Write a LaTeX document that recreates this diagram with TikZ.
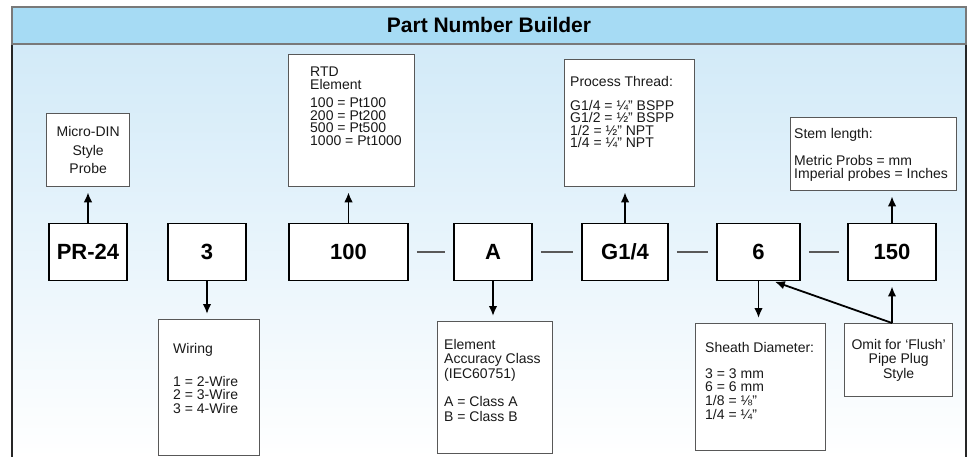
\documentclass[tikz,border=0pt]{standalone}
\usepackage{fontspec}
\setmainfont{Liberation Sans}
\usepackage{xcolor}
\usepackage{tikz}
\usetikzlibrary{arrows.meta,positioning,calc}
\definecolor{faixa}{RGB}{166,219,244}
\definecolor{fundo}{RGB}{210,234,248}
\definecolor{borda}{RGB}{88,88,88}
\definecolor{escrita}{RGB}{25,25,25}
\tikzset{
    campo/.style={
        rectangle,
        draw=black,
        line width=1.8pt,
        fill=white,
        inner sep=0pt,
        minimum height=57pt,
        font=\fontsize{22}{24}\selectfont\bfseries
    },
    nota/.style={
        rectangle,
        draw=borda,
        line width=1.3pt,
        fill=white,
        inner sep=0pt,
        anchor=north west
    },
    lista/.style={inner sep=0pt, align=left, text=escrita},
    centrado/.style={align=center, text=escrita},
    fluxo/.style={-{Latex[length=10pt, width=8.5pt]}, line width=1.8pt, shorten >=5pt},
    ligacao/.style={draw=black!65, line width=1.1pt, shorten <=8pt, shorten >=8pt}
}

\begin{document}
\begin{tikzpicture}[
        x=1pt, y=-1pt,
        every node/.style={font=\fontsize{14}{13.7}\selectfont}
    ]
        \useasboundingbox (0,0) rectangle (973,457);
        % fundo e faixa do titulo
        \shade[top color=fundo, bottom color=white] (12,44) rectangle (966,457);
        \draw[line width=1.8pt, black!85] (12,44) -- (12,457);
        \draw[line width=1.8pt, black!85] (966,44) -- (966,457);
        \draw[fill=faixa, draw=borda!80, line width=1.2pt] (12,7) rectangle (966,44);
        \node[font=\fontsize{21}{24}\selectfont\bfseries] (titulo) at (489,25) {Part Number Builder};

        % campos do codigo
        \node[campo, minimum width=78pt] (sonda) at (88,252) {PR-24};
        \node[campo, minimum width=78pt] (fiacao) at (207,252) {3};
        \node[campo, minimum width=119pt] (rtd) at (348.5,252) {100};
        \node[campo, minimum width=78pt] (classe) at (493,252) {A};
        \node[campo, minimum width=86pt] (rosca) at (625,252) {G1/4};
        \node[campo, minimum width=83pt] (bainha) at (758.5,252) {6};
        \node[campo, minimum width=88pt] (haste) at (892,252) {150};

        % notas
        \node[nota, centrado, minimum width=83pt, minimum height=73pt, font=\fontsize{14}{18.5}\selectfont] (notaSonda) at (46,113) {Micro-DIN\\Style\\Probe};
        \node[nota, minimum width=126pt, minimum height=132pt] (notaRtd) at (288,54) {};
        \node[lista, below right=13pt and 22pt of notaRtd.north west, font=\fontsize{14}{12.5}\selectfont] (txtRtd) {RTD\\Element\\[6pt]100 = Pt100\\200 = Pt200\\500 = Pt500\\1000 = Pt1000};
        \node[nota, minimum width=130pt, minimum height=127pt] (notaRosca) at (564,59) {};
        \node[lista, below right=17pt and 6pt of notaRosca.north west, font=\fontsize{14}{12.5}\selectfont] (txtRosca) {Process Thread:\\[11.5pt]G1/4 = ¼" BSPP\\G1/2 = ½" BSPP\\1/2 = ½" NPT\\1/4 = ¼" NPT};
        \node[nota, minimum width=166pt, minimum height=73pt] (notaHaste) at (790,117) {};
        \node[lista, below right=11pt and 4pt of notaHaste.north west] (txtHaste) {Stem length:\\[13pt]Metric Probs = mm\\Imperial probes = Inches};
        \node[nota, minimum width=101pt, minimum height=136pt] (notaFiacao) at (158,319) {};
        \node[lista, below right=24pt and 15pt of notaFiacao.north west] (txtFiacao) {Wiring\\[19pt]1 = 2-Wire\\2 = 3-Wire\\3 = 4-Wire};
        \node[nota, minimum width=115pt, minimum height=132pt] (notaClasse) at (437,321) {};
        \node[lista, below right=18pt and 7pt of notaClasse.north west, font=\fontsize{14}{14.5}\selectfont] (txtClasse) {Element\\Accuracy Class\\(IEC60751)\\[14pt]A = Class A\\B = Class B};
        \node[nota, minimum width=130pt, minimum height=127pt] (notaBainha) at (695,323) {};
        \node[lista, below right=19pt and 10pt of notaBainha.north west] (txtBainha) {Sheath Diameter:\\[12pt]3 = 3 mm\\6 = 6 mm\\1/8 = ⅛"\\1/4 = ¼"};
        \node[nota, centrado, minimum width=108pt, minimum height=73pt, font=\fontsize{14}{14.5}\selectfont] (notaFlush) at (844,323) {Omit for `Flush'\\Pipe Plug\\Style};

        % setas
        \draw[fluxo] (sonda) -- (sonda |- notaSonda.south);
        \draw[fluxo] (fiacao) -- (fiacao |- notaFiacao.north);
        \draw[fluxo] (rtd) -- (rtd |- notaRtd.south);
        \draw[fluxo] (classe) -- (classe |- notaClasse.north);
        \draw[fluxo] (rosca) -- (rosca |- notaRosca.south);
        \draw[fluxo] (bainha) -- (bainha |- notaBainha.north);
        \draw[fluxo] (haste) -- (haste |- notaHaste.south);
        \coordinate (raiz) at (haste |- notaFlush.north);
        \coordinate (ponta) at ($(bainha.south east)+(-27,0)$);
        \draw[fluxo] (raiz) -- (haste);
        \draw[fluxo, shorten >=1pt] (raiz) -- (ponta);

        % ligacoes entre campos
        \draw[ligacao] (rtd) -- (classe);
        \draw[ligacao] (classe) -- (rosca);
        \draw[ligacao] (rosca) -- (bainha);
        \draw[ligacao] (bainha) -- (haste);
    \end{tikzpicture}
\end{document}
